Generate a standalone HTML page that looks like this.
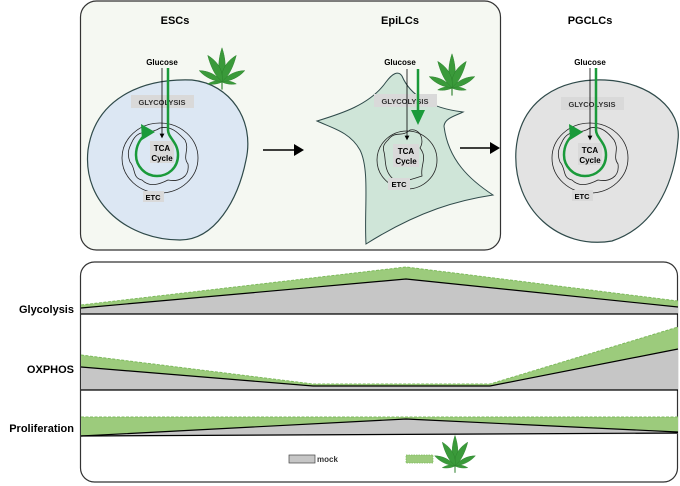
<!DOCTYPE html>
<html><head><meta charset="utf-8"><style>
html,body{margin:0;padding:0;background:#fff}
svg{display:block}
text{font-family:"Liberation Sans",Arial,sans-serif;font-weight:bold}
</style></head><body>
<svg width="680" height="486" viewBox="0 0 680 486" xmlns="http://www.w3.org/2000/svg">
<defs>
<g id="leaf">
<g fill="#3a9a3a" stroke="#2a7f2a" stroke-width="0.5">
<path d="M0,0 C-5,-12 -4,-24 0,-36 C4,-24 5,-12 0,0Z"/>
<path d="M0,0 C-2,-12 5,-22 15,-28 C12,-16 7,-6 0,0Z"/>
<path d="M0,0 C2,-12 -5,-22 -15,-28 C-12,-16 -7,-6 0,0Z"/>
<path d="M0,0 C6,-8 15,-12 24,-12 C18,-5 9,-1 0,0Z"/>
<path d="M0,0 C-6,-8 -15,-12 -24,-12 C-18,-5 -9,-1 0,0Z"/>
<path d="M0,0 C5,-2 10,-1 15,2 C9,3 4,2 0,0Z"/>
<path d="M0,0 C-5,-2 -10,-1 -15,2 C-9,3 -4,2 0,0Z"/>
</g>
<line x1="0" y1="0" x2="0" y2="8" stroke="#2a7f2a" stroke-width="1.2"/>
</g>
<marker id="ah" markerWidth="6" markerHeight="6" refX="3" refY="3" orient="auto"><path d="M0,0 L6,3 L0,6Z" fill="#000"/></marker>
</defs>

<!-- top box -->
<rect x="80.5" y="1" width="420" height="249" rx="16" fill="#f5f8f2" stroke="#333" stroke-width="1.2"/>
<text x="175" y="24" font-size="11" text-anchor="middle">ESCs</text>
<text x="400" y="24" font-size="11" text-anchor="middle">EpiLCs</text>
<text x="590" y="24" font-size="11" text-anchor="middle">PGCLCs</text>

<!-- ESC cell -->
<path d="M88,150 C95,100 140,78 192,80 C230,84 255,120 246,160 C238,200 215,240 180,240 C130,240 82,205 88,150Z" fill="#dce7f3" stroke="#2f4a4a" stroke-width="1.2"/>
<use href="#leaf" transform="translate(222,82) scale(0.95)"/>
<text x="162" y="65" font-size="8" text-anchor="middle">Glucose</text>
<rect x="131" y="95" width="63" height="13" fill="#d9d9d9"/>
<text x="162" y="105" font-size="7.5" text-anchor="middle" fill="#333">GLYCOLYSIS</text>
<ellipse cx="160" cy="158" rx="38" ry="35" fill="none" stroke="#222" stroke-width="0.8"/>
<path d="M133,140 C140,128 150,135 160,128 C172,125 180,135 185,140 C190,150 182,156 188,164 C190,178 178,182 168,180 C160,184 150,188 142,180 C132,178 136,168 130,162 C126,152 130,146 133,140Z" fill="none" stroke="#222" stroke-width="0.8"/>
<rect x="150" y="141" width="24" height="22" fill="#d9d9d9"/>
<text x="162" y="151" font-size="8" text-anchor="middle">TCA</text>
<text x="162" y="161" font-size="8" text-anchor="middle">Cycle</text>
<rect x="143" y="191" width="21" height="11" fill="#d9d9d9"/>
<text x="153" y="200" font-size="7.5" text-anchor="middle">ETC</text>
<line x1="162" y1="68" x2="162" y2="136" stroke="#000" stroke-width="0.8" marker-end="url(#ah)"/>
<path d="M168,68 L168,130 C168,138 178,142 178,155 C178,168 168,176 157,176 C145,176 136,166 136,155 C136,145 141,138 146,134" fill="none" stroke="#1a9a3a" stroke-width="2.5"/>
<path d="M141,124 L155,132 L142,140Z" fill="#1a9a3a"/>

<!-- arrows -->
<line x1="263" y1="150" x2="296" y2="150" stroke="#000" stroke-width="1.5"/>
<path d="M294,144 L304,150 L294,156Z" fill="#000"/>
<line x1="460" y1="148" x2="492" y2="148" stroke="#000" stroke-width="1.5"/>
<path d="M490,142 L500,148 L490,154Z" fill="#000"/>

<!-- EpiLC cell -->
<path d="M317,121 C340,114 370,105 386,82 C392,74 398,70 402,76 C410,95 430,108 463,112 C455,116 445,118 444,126 C448,160 470,180 493,195 C460,200 420,210 366,244 C364,210 370,170 360,150 C350,132 332,128 317,121Z" fill="#cfe5d8" stroke="#2f4a4a" stroke-width="1"/>
<use href="#leaf" transform="translate(452,88) scale(0.95)"/>
<text x="400" y="65" font-size="8" text-anchor="middle">Glucose</text>
<rect x="374" y="94" width="63" height="13" fill="#d9d9d9"/>
<text x="405" y="104" font-size="7.5" text-anchor="middle" fill="#333">GLYCOLYSIS</text>
<line x1="407" y1="69" x2="407" y2="138" stroke="#000" stroke-width="0.8" marker-end="url(#ah)"/>
<line x1="418" y1="69" x2="418" y2="112" stroke="#1a9a3a" stroke-width="2.5"/>
<path d="M411,110 L425,110 L418,125Z" fill="#1a9a3a"/>
<ellipse cx="407" cy="160" rx="30" ry="29" fill="none" stroke="#222" stroke-width="0.8"/>
<path d="M388,140 C395,130 402,138 410,130 C420,128 425,140 420,148 C428,158 420,165 422,176 C410,180 400,184 392,178 C384,170 386,160 384,152 C382,146 385,143 388,140Z" fill="none" stroke="#222" stroke-width="0.8"/>
<rect x="393" y="144" width="26" height="23" fill="#d9d9d9"/>
<text x="406" y="154" font-size="8" text-anchor="middle">TCA</text>
<text x="406" y="164" font-size="8" text-anchor="middle">Cycle</text>
<rect x="388" y="178" width="22" height="12" fill="#d9d9d9"/>
<text x="399" y="187" font-size="7.5" text-anchor="middle">ETC</text>

<!-- PGCLC cell -->
<path d="M516,150 C520,100 560,78 605,80 C650,82 682,110 678,140 C675,175 660,225 612,241 C560,250 512,210 516,150Z" fill="#e3e3e3" stroke="#2f4a4a" stroke-width="1.2"/>
<text x="590" y="65" font-size="8" text-anchor="middle">Glucose</text>
<rect x="561" y="97" width="63" height="13" fill="#d9d9d9"/>
<text x="592" y="107" font-size="7.5" text-anchor="middle" fill="#333">GLYCOLYSIS</text>
<ellipse cx="590" cy="158" rx="38" ry="35" fill="none" stroke="#222" stroke-width="0.8"/>
<path d="M563,140 C570,128 580,135 590,128 C602,125 610,135 614,140 C620,150 612,156 618,164 C620,178 608,182 598,180 C590,184 580,188 572,180 C562,178 566,168 560,162 C556,152 560,146 563,140Z" fill="none" stroke="#222" stroke-width="0.8"/>
<rect x="578" y="143" width="24" height="22" fill="#d9d9d9"/>
<text x="590" y="153" font-size="8" text-anchor="middle">TCA</text>
<text x="590" y="163" font-size="8" text-anchor="middle">Cycle</text>
<rect x="572" y="190" width="21" height="11" fill="#d9d9d9"/>
<text x="582" y="199" font-size="7.5" text-anchor="middle">ETC</text>
<line x1="590" y1="68" x2="590" y2="138" stroke="#000" stroke-width="0.8" marker-end="url(#ah)"/>
<path d="M596,68 L596,130 C596,138 606,142 606,155 C606,168 596,176 585,176 C573,176 564,166 564,155 C564,145 569,138 574,134" fill="none" stroke="#1a9a3a" stroke-width="2.5"/>
<path d="M569,124 L583,132 L570,140Z" fill="#1a9a3a"/>

<!-- bottom box -->
<rect x="80.5" y="262" width="597" height="220" rx="14" fill="#fff" stroke="#333" stroke-width="1.2"/>
<!-- glycolysis -->
<path d="M81,305 L406,267 L678,301 L678,307 L406,279 L81,308Z" fill="#9ccb7c"/>
<path d="M81,305 L406,267 L678,301" fill="none" stroke="#7dba5c" stroke-width="1" stroke-dasharray="3,1.5"/>
<path d="M81,308 L406,279 L678,307 L678,314 L81,314Z" fill="#c6c6c6"/>
<path d="M81,308 L406,279 L678,307" fill="none" stroke="#000" stroke-width="1.2"/>
<line x1="81" y1="314" x2="678" y2="314" stroke="#000" stroke-width="1.2"/>
<!-- oxphos -->
<path d="M81,355 L313,384 L490,384 L678,327 L678,349 L490,386 L313,386 L81,367Z" fill="#9ccb7c"/>
<path d="M81,355 L313,384 L490,384 L678,327" fill="none" stroke="#7dba5c" stroke-width="1" stroke-dasharray="3,1.5"/>
<path d="M81,367 L313,386 L490,386 L678,349 L678,390 L81,390Z" fill="#c6c6c6"/>
<path d="M81,367 L313,386 L490,386 L678,349" fill="none" stroke="#000" stroke-width="1.2"/>
<line x1="81" y1="390" x2="678" y2="390" stroke="#000" stroke-width="1.2"/>
<!-- proliferation -->
<path d="M81,417 L678,417 L678,432 L406,419 L81,436Z" fill="#9ccb7c"/>
<line x1="81" y1="417" x2="678" y2="417" stroke="#7dba5c" stroke-width="1" stroke-dasharray="3,1.5"/>
<path d="M81,436 L406,419 L678,432 L678,434 L81,436Z" fill="#c6c6c6"/>
<path d="M81,436 L406,419 L678,432" fill="none" stroke="#000" stroke-width="1.2"/>
<line x1="81" y1="436" x2="678" y2="433" stroke="#000" stroke-width="1.2"/>

<text x="74" y="313" font-size="11" text-anchor="end">Glycolysis</text>
<text x="74" y="373" font-size="11" text-anchor="end">OXPHOS</text>
<text x="74" y="432" font-size="11" text-anchor="end">Proliferation</text>

<!-- legend -->
<rect x="289" y="455" width="26" height="8" fill="#c6c6c6" stroke="#444" stroke-width="0.7"/>
<text x="317" y="462" font-size="8" fill="#333">mock</text>
<rect x="406" y="455" width="27" height="8" fill="#9ccb7c" stroke="#7dba5c" stroke-width="0.7" stroke-dasharray="1.5,1"/>
<use href="#leaf" transform="translate(455,466) scale(0.85)"/>
</svg>
</body></html>
